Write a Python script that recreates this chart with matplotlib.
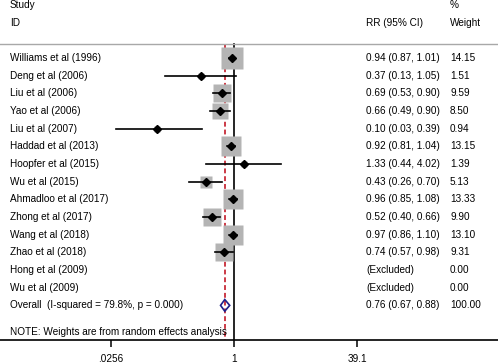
import numpy as np
import matplotlib.pyplot as plt
from matplotlib.patches import Polygon

plt.rcParams['font.family'] = ['Liberation Sans', 'DejaVu Sans']

studies = ["Williams et al (1996)", "Deng et al (2006)", "Liu et al (2006)",
           "Yao et al (2006)", "Liu et al (2007)", "Haddad et al (2013)",
           "Hoopfer et al (2015)", "Wu et al (2015)", "Ahmadloo et al (2017)",
           "Zhong et al (2017)", "Wang et al (2018)", "Zhao et al (2018)",
           "Hong et al (2009)", "Wu et al (2009)"]
rr = [0.94, 0.37, 0.69, 0.66, 0.10, 0.92, 1.33, 0.43, 0.96, 0.52, 0.97, 0.74, np.nan, np.nan]
lo = [0.87, 0.13, 0.53, 0.49, 0.03, 0.81, 0.44, 0.26, 0.85, 0.40, 0.86, 0.57, np.nan, np.nan]
hi = [1.01, 1.05, 0.90, 0.90, 0.39, 1.04, 4.02, 0.70, 1.08, 0.66, 1.10, 0.98, np.nan, np.nan]
weights = [14.15, 1.51, 9.59, 8.50, 0.94, 13.15, 1.39, 5.13, 13.33, 9.90, 13.10, 9.31, 0.00, 0.00]
overall = (0.76, 0.67, 0.88)
overall_label = "Overall  (I-squared = 79.8%, p = 0.000)"
note = "NOTE: Weights are from random effects analysis"
xticks = [0.0256, 1, 39.1]
xticklabels = [".0256", "1", "39.1"]

fs = 7.2
fig = plt.figure(figsize=(4.98, 3.63), dpi=100)
ax = fig.add_axes([0, 23 / 363, 1, 340 / 363])
ax.set_xscale('log')
ax.set_xlim(np.exp(-234 / 33.6), np.exp(264 / 33.6))
ax.set_ylim(15.96, -3.28)

n = len(studies)
ytop = -0.79
ybot = 15.96

# header
ax.axhline(ytop, color='#a8a8a8', lw=1.0)
tx = lambda px: px / 498
trans = ax.get_yaxis_transform()
ax.text(tx(10), -3.0, "Study", transform=trans, fontsize=fs, va='center')
ax.text(tx(10), -1.98, "ID", transform=trans, fontsize=fs, va='center')
ax.text(tx(366), -1.98, "RR (95% CI)", transform=trans, fontsize=fs, va='center')
ax.text(tx(450), -3.0, "%", transform=trans, fontsize=fs, va='center')
ax.text(tx(450), -1.98, "Weight", transform=trans, fontsize=fs, va='center')

# reference lines
ax.plot([1, 1], [ytop, ybot], color='black', lw=1.2, zorder=1)
ax.plot([overall[0]] * 2, [ytop, ybot], color='#cc3a46', lw=1.4,
        ls=(0, (2.5, 1.5)), zorder=1)

for i in range(n):
    ax.text(tx(10), i, studies[i], transform=trans, fontsize=fs, va='center')
    if np.isnan(rr[i]):
        ax.text(tx(366), i, "(Excluded)", transform=trans, fontsize=fs, va='center')
    else:
        ax.text(tx(366), i, f"{rr[i]:.2f} ({lo[i]:.2f}, {hi[i]:.2f})",
                transform=trans, fontsize=fs, va='center')
        ax.plot([rr[i]], [i], marker='s', ms=4.03 * np.sqrt(weights[i]),
                color='#b4b4b4', mec='none', zorder=2)
        ax.plot([lo[i], hi[i]], [i, i], color='black', lw=1.2, zorder=3)
        ax.plot([rr[i]], [i], marker='D', ms=3.6, color='black', zorder=4)
    ax.text(tx(450), i, f"{weights[i]:.2f}", transform=trans, fontsize=fs, va='center')

# overall
yo = n
est, olo, ohi = overall
h = 0.33
ax.add_patch(Polygon([(olo, yo), (est, yo - h), (ohi, yo), (est, yo + h)],
                     closed=True, fill=False, edgecolor='#1f1f8a', lw=1.2, zorder=5))
ax.text(tx(10), yo, overall_label, transform=trans, fontsize=fs, va='center')
ax.text(tx(366), yo, f"{est:.2f} ({olo:.2f}, {ohi:.2f})", transform=trans,
        fontsize=fs, va='center')
ax.text(tx(450), yo, "100.00", transform=trans, fontsize=fs, va='center')
ax.text(tx(10), 15.5, note, transform=trans, fontsize=fs, va='center')

# axis
for s in ['top', 'left', 'right']:
    ax.spines[s].set_visible(False)
ax.spines['bottom'].set_linewidth(1.2)
ax.set_yticks([])
ax.set_xticks(xticks)
ax.set_xticklabels(xticklabels, fontsize=fs)
ax.minorticks_off()
ax.tick_params(axis='x', length=5, width=1.1, pad=5)

fig.savefig('out.png', dpi=100)
